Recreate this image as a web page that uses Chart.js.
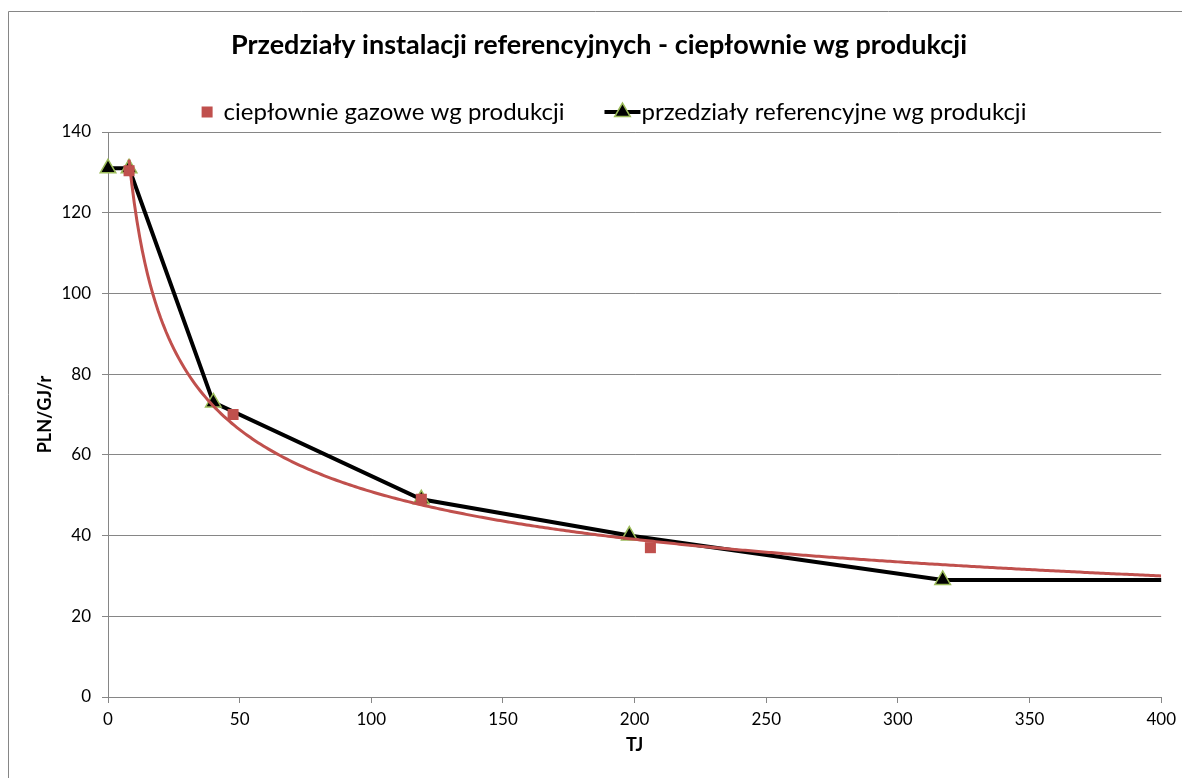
<!DOCTYPE html>
<html>
<head>
<meta charset="utf-8">
<script src="https://cdn.jsdelivr.net/npm/chart.js@4.4.1/dist/chart.umd.min.js"></script>
<style>
  html, body { margin: 0; padding: 0; background: #fff; }
  #wrap { width: 1182px; height: 778px; }
</style>
</head>
<body>
<div id="wrap"><canvas id="c" width="1182" height="778"></canvas></div>
<script>
// ---- texts ----
const chartTitle = 'Przedziały instalacji referencyjnych - ciepłownie wg produkcji';
const xTitle = 'TJ';
const yTitle = 'PLN/GJ/r';
const plantsLabel = 'ciepłownie gazowe wg produkcji';
const bandsLabel = 'przedziały referencyjne wg produkcji';

// ---- gas heating plants: production [TJ] and unit value [PLN/GJ/r] ----
const plantX = [8, 47.5, 119, 206];
const plantY = [130.4, 70, 49, 37];

// ---- reference intervals (break points) ----
const bandX = [0, 8, 40, 119, 198, 317, 400];
const bandY = [131, 131, 73, 49, 40, 29, 29];

// ---- axis ranges / tick steps ----
const xRange = [0, 400];
const xStep = 50;
const yRange = [0, 140];
const yStep = 20;

const FONT = 'Lato, "Open Sans", sans-serif';
const RED = '#C0504D';
const GREEN = '#9BBB59';
const AXIS = '#868686';
const TRI_R = 9;

// power trendline y = a * x^b fitted on the plant points (least squares in log-log)
function powerFit(xs, ys) {
  const n = xs.length;
  const lx = xs.map(Math.log), ly = ys.map(Math.log);
  const mx = lx.reduce((s, v) => s + v, 0) / n;
  const my = ly.reduce((s, v) => s + v, 0) / n;
  let sxy = 0, sxx = 0;
  for (let i = 0; i < n; i++) {
    sxy += (lx[i] - mx) * (ly[i] - my);
    sxx += (lx[i] - mx) * (lx[i] - mx);
  }
  const b = sxy / sxx;
  return { a: Math.exp(my - b * mx), b };
}
const fit = powerFit(plantX, plantY);
const trend = [];
for (let x = plantX[0]; x <= xRange[1] + 1e-9; x += 1) {
  trend.push({ x, y: fit.a * Math.pow(x, fit.b) });
}

const plantPts = plantX.map((x, i) => ({ x, y: plantY[i] }));
const bandPts = bandX.map((x, i) => ({ x, y: bandY[i] }));
// the open end of the last interval carries no marker
const bandRadius = bandX.map((x, i) => (i === bandX.length - 1 ? 0 : TRI_R));

function triangle(ctx, x, y, r) {
  ctx.beginPath();
  for (let k = 0; k < 3; k++) {
    const a = k * 2 * Math.PI / 3;
    const px = x + Math.sin(a) * r, py = y - Math.cos(a) * r;
    if (k === 0) ctx.moveTo(px, py); else ctx.lineTo(px, py);
  }
  ctx.closePath();
}

// frame, title and legend
const header = {
  id: 'header',
  beforeDraw(chart) {
    const { ctx, width, height } = chart;
    ctx.save();
    ctx.fillStyle = '#fff';
    ctx.fillRect(0, 0, width, height);
    ctx.strokeStyle = AXIS;
    ctx.lineWidth = 1;
    ctx.beginPath();
    ctx.moveTo(8.5, height);
    ctx.lineTo(8.5, 11.5);
    ctx.lineTo(width, 11.5);
    ctx.stroke();

    ctx.fillStyle = '#000';
    ctx.textBaseline = 'middle';
    ctx.textAlign = 'center';
    ctx.font = 'bold 27px ' + FONT;
    ctx.fillText(chartTitle, 599, 45);

    // legend
    ctx.font = '24px ' + FONT;
    ctx.textAlign = 'left';
    const w1 = ctx.measureText(plantsLabel).width;
    const w2 = ctx.measureText(bandsLabel).width;
    const total = 11 + 11 + w1 + 40 + 36 + 1 + w2;
    let x = 614 - total / 2;
    const ly = 112;
    ctx.fillStyle = RED;
    ctx.fillRect(x, ly - 5.5, 11, 11);
    x += 22;
    ctx.fillStyle = '#000';
    ctx.fillText(plantsLabel, x, ly);
    x += w1 + 40;
    ctx.strokeStyle = '#000';
    ctx.lineWidth = 4;
    ctx.beginPath();
    ctx.moveTo(x, ly);
    ctx.lineTo(x + 36, ly);
    ctx.stroke();
    triangle(ctx, x + 18, ly, TRI_R);
    ctx.fillStyle = '#000';
    ctx.fill();
    ctx.lineWidth = 1.5;
    ctx.strokeStyle = GREEN;
    ctx.stroke();
    x += 37;
    ctx.fillStyle = '#000';
    ctx.fillText(bandsLabel, x, ly);
    ctx.restore();
  }
};

new Chart(document.getElementById('c'), {
  type: 'scatter',
  data: {
    datasets: [
      {
        label: plantsLabel,
        data: plantPts,
        showLine: false,
        pointStyle: 'rect',
        pointRadius: 7.8,
        pointBorderWidth: 0,
        backgroundColor: RED,
        borderColor: RED,
        order: 0,
        clip: false
      },
      {
        label: 'trend',
        data: trend,
        showLine: true,
        borderColor: RED,
        borderWidth: 3,
        pointRadius: 0,
        tension: 0,
        order: 1
      },
      {
        label: bandsLabel,
        data: bandPts,
        showLine: true,
        borderColor: '#000',
        borderWidth: 4,
        pointStyle: 'triangle',
        pointRadius: bandRadius,
        pointBackgroundColor: '#000',
        pointBorderColor: GREEN,
        pointBorderWidth: 1.5,
        tension: 0,
        order: 2,
        clip: false
      }
    ]
  },
  options: {
    responsive: false,
    animation: false,
    events: [],
    layout: { padding: { top: 132, right: 20, left: 0, bottom: 0 } },
    plugins: { legend: { display: false }, tooltip: { enabled: false }, title: { display: false } },
    scales: {
      x: {
        type: 'linear',
        min: xRange[0], max: xRange[1],
        afterFit(s) { s.height = 81; },
        ticks: { stepSize: xStep, color: '#000', font: { family: FONT, size: 17 }, padding: 6, maxRotation: 0 },
        grid: { drawOnChartArea: false, drawTicks: true, tickLength: 6, color: AXIS },
        border: { color: AXIS, width: 1 },
        title: { display: true, text: xTitle, color: '#000', font: { family: FONT, size: 18, weight: 'bold' }, padding: { top: 0, bottom: 22 } }
      },
      y: {
        type: 'linear',
        min: yRange[0], max: yRange[1],
        afterFit(s) { s.width = 108; },
        ticks: { stepSize: yStep, color: '#000', font: { family: FONT, size: 17 }, padding: 11 },
        grid: { drawTicks: true, tickLength: 6, color: AXIS },
        border: { color: AXIS, width: 1 },
        title: { display: true, text: yTitle, color: '#000', font: { family: FONT, size: 18, weight: 'bold' }, padding: { top: 34, bottom: 0 } }
      }
    }
  },
  plugins: [header]
});
</script>
</body>
</html>
